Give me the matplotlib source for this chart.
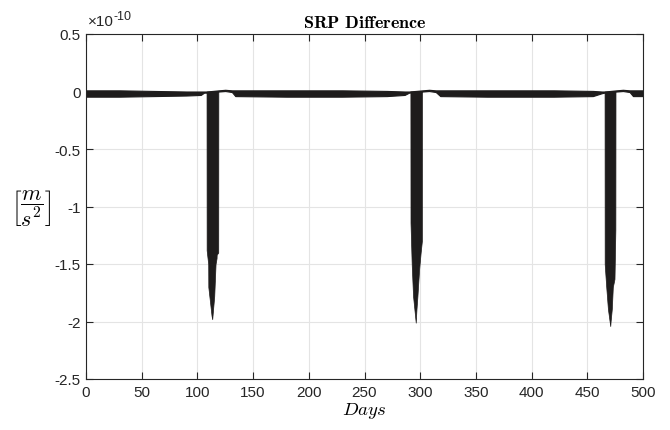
import matplotlib
matplotlib.use("Agg")
import matplotlib.pyplot as plt
import numpy as np

plt.rcParams['font.family'] = ['Liberation Sans', 'DejaVu Sans']
plt.rcParams['mathtext.fontset'] = 'cm'
plt.rcParams['axes.unicode_minus'] = False

# values in units of 1e-10 m/s^2
# envelope of the dense oscillation near zero
base_days = [0, 30, 60, 90, 103, 106, 108, 119, 125, 131, 134, 180, 230, 270,
             286, 290, 302, 308, 314, 318, 360, 420, 455, 463, 465.5, 476,
             482, 488, 491, 500]
base_upper = [0.01, 0.01, 0.005, 0.0, 0.0, 0.0, 0.0, 0.01, 0.015, 0.01, 0.01,
              0.01, 0.01, 0.005, 0.0, 0.0, 0.01, 0.015, 0.01, 0.01, 0.01, 0.01,
              0.005, 0.0, 0.0, 0.01, 0.015, 0.01, 0.01, 0.01]
base_lower = [-0.045, -0.045, -0.04, -0.035, -0.03, -0.01, -0.01, 0.0, 0.005,
              -0.005, -0.04, -0.045, -0.045, -0.04, -0.03, -0.01, 0.0, 0.005,
              -0.005, -0.04, -0.045, -0.045, -0.04, -0.015, -0.01, 0.0, 0.005,
              -0.005, -0.04, -0.04]

# lower envelope of the three eclipse-season dips
dip1_days = [108.2, 108.3, 109.7, 109.8, 111.2, 112.7, 113.3, 114.0, 115.1,
             116.3, 117.2, 117.3, 118.7, 118.8]
dip1_low = [0.0, -1.38, -1.5, -1.7, -1.82, -1.95, -1.98, -1.9, -1.78, -1.5,
            -1.45, -1.42, -1.4, 0.0]
dip2_days = [291.2, 291.3, 292.4, 293.6, 296.0, 296.6, 297.5, 299.0, 300.4,
             301.5, 301.6]
dip2_low = [0.0, -1.14, -1.51, -1.78, -2.01, -1.9, -1.78, -1.55, -1.4,
            -1.3, 0.0]
dip3_days = [465.5, 465.6, 467.0, 468.5, 470.6, 470.9, 472.0, 472.9, 474.4,
             475.2, 475.3]
dip3_low = [0.0, -1.5, -1.70, -1.89, -2.04, -2.0, -1.89, -1.70, -1.63,
            -1.2, 0.0]

xticks = [0, 50, 100, 150, 200, 250, 300, 350, 400, 450, 500]
yticks = [0.5, 0, -0.5, -1, -1.5, -2, -2.5]
ytick_labels = ['0.5', '0', '-0.5', '-1', '-1.5', '-2', '-2.5']

line_col = '#1e1c1c'

fig = plt.figure(figsize=(6.7, 4.31), dpi=100)
ax = fig.add_axes([86 / 670, 1 - 380 / 431, (643 - 86) / 670, 345 / 431])

ax.fill_between(base_days, base_lower, base_upper, color=line_col,
                linewidth=0.8, edgecolor=line_col)
for d, lo in [(dip1_days, dip1_low), (dip2_days, dip2_low), (dip3_days, dip3_low)]:
    ax.fill_between(d, lo, 0, color=line_col, linewidth=0.5, edgecolor=line_col)

ax.set_xlim(0, 500)
ax.set_ylim(-2.5, 0.5)
ax.set_xticks(xticks)
ax.set_yticks(yticks)
ax.set_yticklabels(ytick_labels)
ax.tick_params(direction='in', length=5, width=0.8, labelsize=11,
               top=True, right=True, colors='#262626', pad=4)
ax.grid(True, color='#e4e4e4', linewidth=0.8)
ax.set_axisbelow(True)
for s in ax.spines.values():
    s.set_color('#262626')
    s.set_linewidth(0.8)

ax.set_title(r'$\mathbf{SRP\ Difference}$', fontsize=13, pad=5)
ax.set_xlabel(r'$Days$', fontsize=13.5, labelpad=1)
ax.set_ylabel(r'$\left[\dfrac{m}{s^2}\right]$', fontsize=16, rotation=0,
              va='center', ha='center')
ax.yaxis.set_label_coords(-0.098, 0.5)

# MATLAB style exponent label
fig.text(88 / 670, 1 - 26 / 431, '\u00d710', fontsize=11, color='#262626')
fig.text(114 / 670, 1 - 20 / 431, '-10', fontsize=9, color='#262626')

fig.savefig('out.png', dpi=100)
